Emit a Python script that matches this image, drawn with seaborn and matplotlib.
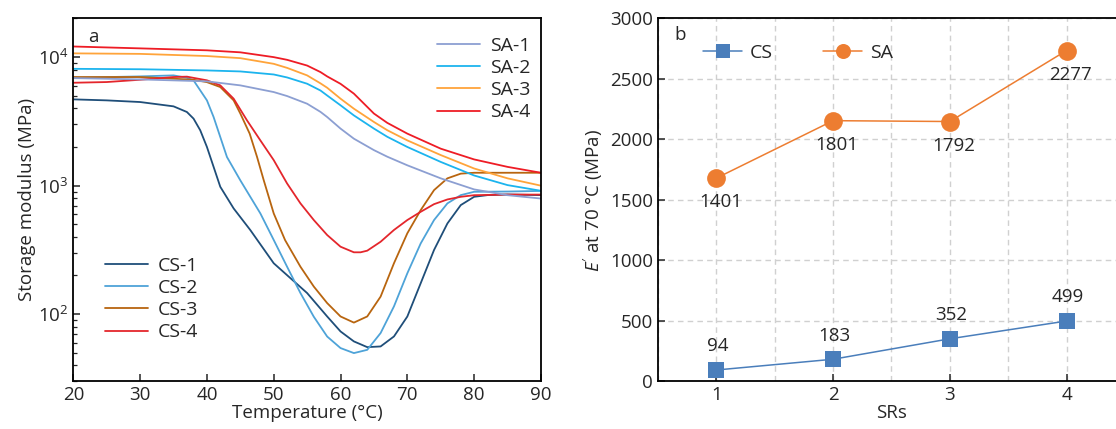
import matplotlib
matplotlib.use("Agg")
import matplotlib.pyplot as plt
import matplotlib.ticker as mticker
from matplotlib.lines import Line2D
import seaborn as sns
import pandas as pd

# ---------------- data: panel a (storage modulus vs temperature) ----------------
sa1_T = [20, 30, 40, 45, 50, 52, 55, 57, 58, 60, 62, 65, 67, 70, 75, 80, 85, 90]
sa1_E = [6870, 6710, 6480, 6030, 5350, 4980, 4340, 3750, 3420, 2780, 2320, 1890, 1680, 1440, 1140, 935, 843, 794]
sa2_T = [20, 30, 40, 45, 50, 52, 55, 57, 58, 60, 62, 65, 67, 70, 75, 80, 85, 90]
sa2_E = [8110, 8050, 7880, 7740, 7330, 6950, 6210, 5500, 5030, 4220, 3520, 2780, 2400, 2000, 1530, 1200, 1010, 912]
sa3_T = [20, 30, 40, 45, 50, 52, 55, 57, 58, 60, 62, 65, 67, 70, 75, 80, 85, 90]
sa3_E = [10700, 10600, 10200, 9820, 8870, 8250, 7210, 6250, 5780, 4750, 3970, 3130, 2700, 2250, 1730, 1360, 1140, 1000]
sa4_T = [20, 30, 40, 45, 50, 52, 55, 57, 58, 60, 62, 65, 67, 70, 75, 80, 85, 90]
sa4_E = [12100, 11700, 11300, 10900, 10000, 9530, 8600, 7650, 7080, 6200, 5200, 3640, 3080, 2540, 1940, 1600, 1400, 1260]

cs1_T = [20, 25, 30, 35, 37, 38, 39, 40, 41, 42, 44, 46.5, 50, 55, 58, 60, 62, 64, 66, 68, 70, 72, 74, 76, 78, 80, 82, 85, 90]
cs1_E = [4693, 4609, 4474, 4141, 3743, 3322, 2697, 2001, 1400, 980, 665, 451, 249, 146, 96, 73.4, 61.4, 55.4, 56.1, 67.1, 95.9, 174, 316, 508, 706, 819, 844, 854, 844]
cs2_T = [20, 30, 35, 37, 38, 40, 41, 42, 43, 45, 48, 50, 52, 54, 56, 58, 60, 62, 64, 66, 68, 70, 72, 74, 76, 78, 80, 85, 90]
cs2_E = [6910, 7080, 7210, 6910, 6590, 4610, 3420, 2390, 1670, 1100, 608, 378, 234, 146, 95.5, 67, 54.5, 49.8, 52.8, 71.3, 115, 208, 355, 540, 728, 844, 896, 900, 910]
cs3_T = [20, 30, 38, 40, 42, 44, 45, 46.4, 47.5, 48.5, 50, 51.7, 54, 56, 58, 60, 62, 64, 66, 68, 70, 72, 74, 76, 78, 80, 85, 90]
cs3_E = [7000, 7000, 6670, 6390, 5850, 4610, 3640, 2540, 1675, 1104, 608, 377, 234, 164, 122, 96, 86, 96, 137, 249, 426, 645, 923, 1140, 1240, 1260, 1260, 1260]
cs4_T = [20, 25, 30, 35, 37, 40, 42, 44, 46, 48, 50, 52, 54, 56, 58, 60, 62, 63, 64, 66, 68, 70, 72, 74, 76, 78, 80, 85, 90]
cs4_E = [6320, 6400, 6670, 7000, 7050, 6600, 6030, 4750, 3220, 2250, 1580, 1040, 728, 540, 413, 335, 303, 303, 312, 366, 452, 540, 626, 718, 781, 819, 843, 852, 852]

sa_names = ["SA-1", "SA-2", "SA-3", "SA-4"]
cs_names = ["CS-1", "CS-2", "CS-3", "CS-4"]

# ---------------- data: panel b (E' at 70 C vs SRs) ----------------
srs = [1, 2, 3, 4]
cs_values = [94, 183, 352, 499]
cs_labels = ["94", "183", "352", "499"]
sa_values = [1680, 2155, 2148, 2735]
sa_labels = ["1401", "1801", "1792", "2277"]

# ---------------- style ----------------
sns.set_theme(style="ticks")
plt.rcParams["font.family"] = ["Open Sans", "DejaVu Sans"]
plt.rcParams["mathtext.fontset"] = "custom"
plt.rcParams["mathtext.it"] = "Open Sans:italic"
plt.rcParams["mathtext.rm"] = "Open Sans"
plt.rcParams["axes.linewidth"] = 1.3
plt.rcParams["axes.edgecolor"] = "black"

FS = 13.5
LFS = 14

sa_colors = ["#8c9fd2", "#1cb4ee", "#ffa43a", "#ee1c25"]
cs_colors = ["#1f4e79", "#4ea3d8", "#b8650f", "#e4262c"]

fig = plt.figure(figsize=(11.16, 4.29), dpi=100)
ax1 = fig.add_axes([0.0657, 0.111, 0.419, 0.846])
ax2 = fig.add_axes([0.5896, 0.111, 0.4184, 0.846])

# ---------------- panel a ----------------
sa_T = [sa1_T, sa2_T, sa3_T, sa4_T]
sa_E = [sa1_E, sa2_E, sa3_E, sa4_E]
cs_T = [cs1_T, cs2_T, cs3_T, cs4_T]
cs_E = [cs1_E, cs2_E, cs3_E, cs4_E]

for name, T, E, c in zip(cs_names, cs_T, cs_E, cs_colors):
    df = pd.DataFrame({"T": T, "E": E})
    sns.lineplot(data=df, x="T", y="E", ax=ax1, color=c, lw=1.3, sort=False, legend=False)
for name, T, E, c in zip(sa_names, sa_T, sa_E, sa_colors):
    df = pd.DataFrame({"T": T, "E": E})
    sns.lineplot(data=df, x="T", y="E", ax=ax1, color=c, lw=1.3, sort=False, legend=False)

ax1.set_yscale("log")
ax1.set_xlim(20, 90)
ax1.set_ylim(30, 20000)
ax1.set_xticks([20, 30, 40, 50, 60, 70, 80, 90])
ax1.yaxis.set_major_locator(mticker.LogLocator(base=10, numticks=10))
ax1.yaxis.set_minor_locator(mticker.LogLocator(base=10, subs=range(2, 10), numticks=10))
ax1.yaxis.set_minor_formatter(mticker.NullFormatter())
ax1.tick_params(axis="both", which="both", direction="in", labelsize=FS, top=False, right=False)
ax1.tick_params(axis="both", which="major", length=5, width=1.1)
ax1.tick_params(axis="y", which="minor", length=3, width=0.9)
ax1.tick_params(axis="x", which="minor", bottom=False)
ax1.set_xlabel("Temperature (°C)", fontsize=FS, labelpad=0)
ax1.set_ylabel("Storage modulus (MPa)", fontsize=FS, labelpad=1)
ax1.text(0.032, 0.948, "a", transform=ax1.transAxes, fontsize=FS, va="center", ha="left")

sa_handles = [Line2D([], [], color=c, lw=1.3) for c in sa_colors]
cs_handles = [Line2D([], [], color=c, lw=1.3) for c in cs_colors]
leg1 = ax1.legend(sa_handles, sa_names, loc="center", bbox_to_anchor=(0.878, 0.833),
                  frameon=False, fontsize=LFS, handlelength=2.2, labelspacing=0.22,
                  handletextpad=0.5)
ax1.add_artist(leg1)
ax1.legend(cs_handles, cs_names, loc="center", bbox_to_anchor=(0.168, 0.227),
           frameon=False, fontsize=LFS, handlelength=2.2, labelspacing=0.22,
           handletextpad=0.5)

# ---------------- panel b ----------------
cs_col = "#4a7ebb"
sa_col = "#ed7d31"
dfb = pd.DataFrame({"SRs": srs, "CS": cs_values, "SA": sa_values})
sns.lineplot(data=dfb, x="SRs", y="CS", ax=ax2, color=cs_col, lw=1.1, marker="s",
             markersize=12, markeredgewidth=0, label="CS")
sns.lineplot(data=dfb, x="SRs", y="SA", ax=ax2, color=sa_col, lw=1.1, marker="o",
             markersize=13.5, markeredgewidth=0, label="SA")

for x, y, t in zip(srs, cs_values, cs_labels):
    ax2.annotate(t, (x, y), xytext=(1, 17), textcoords="offset points",
                 ha="center", va="center", fontsize=FS)
for x, y, t in zip(srs, sa_values, sa_labels):
    ax2.annotate(t, (x, y), xytext=(3, -17.5), textcoords="offset points",
                 ha="center", va="center", fontsize=FS)

ax2.set_xlim(0.5, 4.5)
ax2.set_ylim(0, 3000)
ax2.set_xticks([1, 2, 3, 4])
ax2.xaxis.set_minor_locator(mticker.MultipleLocator(0.5))
ax2.set_yticks([0, 500, 1000, 1500, 2000, 2500, 3000])
ax2.grid(True, which="both", axis="x", color="#d0d0d0", ls=(0, (4, 3)), lw=1)
ax2.grid(True, which="major", axis="y", color="#d0d0d0", ls=(0, (4, 3)), lw=1)
ax2.set_axisbelow(True)
ax2.tick_params(axis="both", which="major", direction="in", length=5, width=1.1, labelsize=FS)
ax2.tick_params(axis="x", which="minor", bottom=False)
ax2.set_xlabel("SRs", fontsize=FS, labelpad=0)
ax2.set_ylabel("$E'$ at 70 °C (MPa)", fontsize=FS, labelpad=4)
ax2.text(0.035, 0.954, "b", transform=ax2.transAxes, fontsize=FS, va="center", ha="left")

h, l = ax2.get_legend_handles_labels()
ax2.legend(h, l, loc="center", bbox_to_anchor=(0.3, 0.904), ncol=2, frameon=False,
           fontsize=LFS, handlelength=2.0, columnspacing=2.6, handletextpad=0.4,
           markerscale=0.8)

fig.savefig("out.png", dpi=100)
